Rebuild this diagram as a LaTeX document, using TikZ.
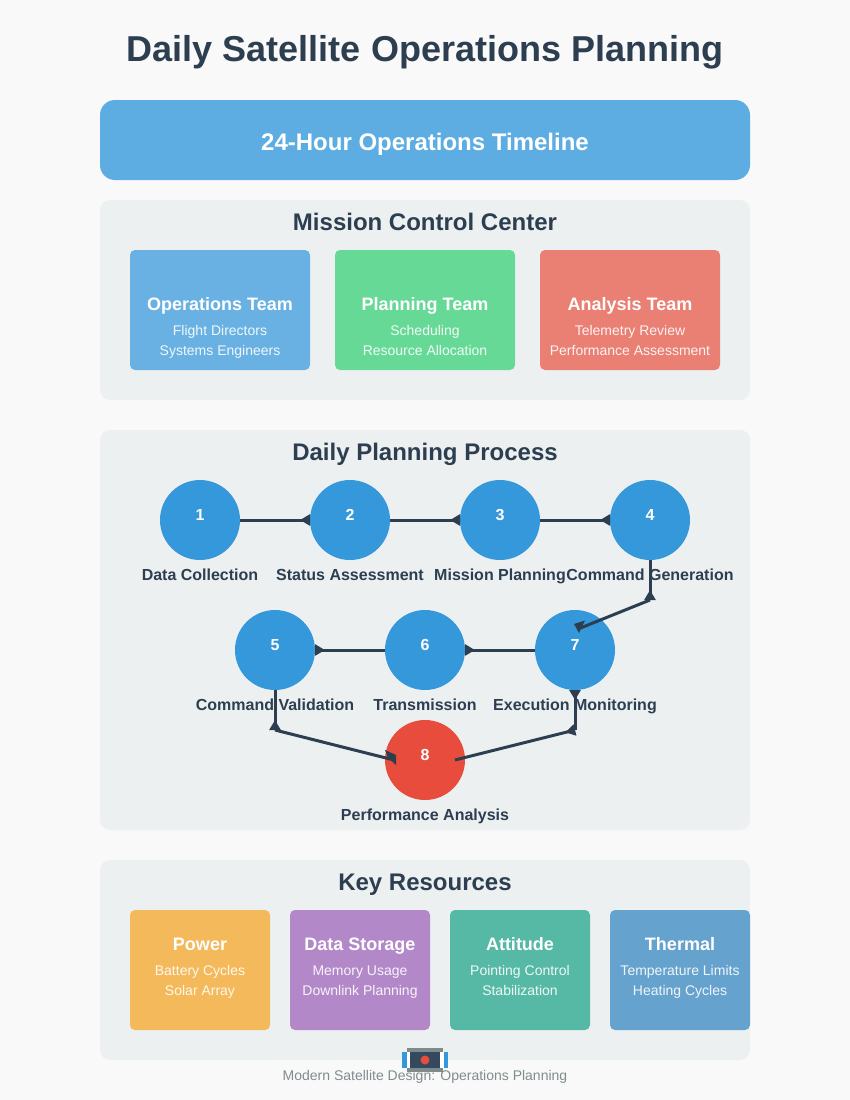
\documentclass[tikz,border=0pt]{standalone}
\usepackage{fontspec}
\setmainfont{Liberation Sans}
\usetikzlibrary{arrows.meta}
\definecolor{pagebg}{HTML}{F9F9F9}
\definecolor{ink}{HTML}{2C3E50}
\definecolor{satbody}{HTML}{34495E}
\definecolor{headerblue}{HTML}{5DADE2}
\definecolor{panelbg}{HTML}{ECF0F1}
\definecolor{stepblue}{HTML}{3498DB}
\definecolor{stepred}{HTML}{E74C3C}
\definecolor{teamblue}{HTML}{6AB1E3}
\definecolor{teamgreen}{HTML}{67D997}
\definecolor{teamred}{HTML}{EA7F73}
\definecolor{resorange}{HTML}{F3B95A}
\definecolor{respurple}{HTML}{B388C9}
\definecolor{resteal}{HTML}{56B9A6}
\definecolor{resblue}{HTML}{65A2CD}
\definecolor{footgray}{HTML}{7F8C8D}
\tikzset{
  txt/.style={inner sep=0pt,outer sep=0pt,anchor=base,align=center},
  pagetitle/.style={txt,text=ink,font=\fontsize{36}{40}\selectfont\bfseries},
  paneltitle/.style={txt,text=ink,font=\fontsize{24}{28}\selectfont\bfseries},
  headtext/.style={txt,text=white,font=\fontsize{24}{28}\selectfont\bfseries},
  boxtitle/.style={txt,text=white,font=\fontsize{18}{22}\selectfont\bfseries},
  teamsub/.style={txt,text=white,opacity=.9,font=\fontsize{14}{17}\selectfont},
  ressub/.style={txt,text=white,opacity=.9,font=\fontsize{14}{17}\selectfont},
  steplabel/.style={txt,text=ink,font=\fontsize{16}{19}\selectfont\bfseries},
  footer/.style={txt,text=footgray,font=\fontsize{14}{17}\selectfont},
  stepcircle/.style={circle,minimum size=80pt,inner sep=0pt,outer sep=0pt,text=white,font=\fontsize{16}{19}\selectfont\bfseries},
  conn/.style={draw=ink,line width=3pt,line join=miter},
  connarrow/.style={conn,-{Triangle[reversed,length=10pt,width=11pt,fill=ink]}},
  panel/.style={fill=panelbg,rounded corners=10pt},
  card/.style={rounded corners=5pt},
}
\newcommand{\stepnum}[1]{\raisebox{9.5pt}{#1}}
\begin{document}
\begin{tikzpicture}[x=1pt,y=-1pt]
\useasboundingbox (0,0) rectangle (850,1100);
\fill[pagebg] (0,0) rectangle (850,1100);
\node[pagetitle] (title) at (425,61) {Daily Satellite Operations Planning};

% header
\fill[headerblue,rounded corners=15pt] (100,100) rectangle (750,180);
\node[headtext] (head) at (425,150) {24-Hour Operations Timeline};

% mission control
\fill[panel] (100,200) rectangle (750,400);
\node[paneltitle] (mcc) at (425,230) {Mission Control Center};
\fill[card,teamblue] (130,250) rectangle (310,370);
\fill[card,teamgreen] (335,250) rectangle (515,370);
\fill[card,teamred] (540,250) rectangle (720,370);
\node[boxtitle] (t1) at (220,310) {Operations Team};
\node[teamsub] (t1a) at (220,335) {Flight Directors};
\node[teamsub] (t1b) at (220,355) {Systems Engineers};
\node[boxtitle] (t2) at (425,310) {Planning Team};
\node[teamsub] (t2a) at (425,335) {Scheduling};
\node[teamsub] (t2b) at (425,355) {Resource Allocation};
\node[boxtitle] (t3) at (630,310) {Analysis Team};
\node[teamsub] (t3a) at (630,335) {Telemetry Review};
\node[teamsub] (t3b) at (630,355) {Performance Assessment};

% planning process
\fill[panel] (100,430) rectangle (750,830);
\node[paneltitle] (dpp) at (425,460) {Daily Planning Process};
\node[stepcircle,fill=stepblue] (s1) at (200,520) {\stepnum{1}};
\node[stepcircle,fill=stepblue] (s2) at (350,520) {\stepnum{2}};
\node[stepcircle,fill=stepblue] (s3) at (500,520) {\stepnum{3}};
\node[stepcircle,fill=stepblue] (s4) at (650,520) {\stepnum{4}};
\node[stepcircle,fill=stepblue] (s5) at (275,650) {\stepnum{5}};
\node[stepcircle,fill=stepblue] (s6) at (425,650) {\stepnum{6}};
\node[stepcircle,fill=stepblue] (s7) at (575,650) {\stepnum{7}};
\node[stepcircle,fill=stepred] (s8) at (425,760) {\stepnum{8}};
\node[steplabel] (l1) at (200,580) {Data Collection};
\node[steplabel] (l2) at (350,580) {Status Assessment};
\node[steplabel] (l3) at (500,580) {Mission Planning};
\node[steplabel] (l4) at (650,580) {Command Generation};
\node[steplabel] (l5) at (275,710) {Command Validation};
\node[steplabel] (l6) at (425,710) {Transmission};
\node[steplabel] (l7) at (575,710) {Execution Monitoring};
\node[steplabel] (l8) at (425,820) {Performance Analysis};

\coordinate (b4) at (650,600);
\coordinate (e7) at (578,629);
\coordinate (b5) at (275,730);
\coordinate (e8) at (394,760);
\coordinate (s8r) at (455,760);
\coordinate (b7) at (575,730);
\draw[connarrow] (s1.east) -- (s2.west);
\draw[connarrow] (s2.east) -- (s3.west);
\draw[connarrow] (s3.east) -- (s4.west);
\draw[connarrow] (s4.south) -- (b4);
\draw[conn] (b4) -- (e7);
\fill[ink] (574,624) -- (585,620.5) -- (579,633) -- cycle;
\draw[connarrow] (s7.west) -- (s6.east);
\draw[connarrow] (s6.west) -- (s5.east);
\draw[connarrow] (s5.south) -- (b5);
\draw[conn] (b5) -- (e8);
\fill[ink] (385,750) -- (396,755) -- (396,765) -- (388,757.5) -- cycle;
\draw[connarrow] (s8r) -- (b7);
\draw[connarrow] (b7) -- (s7.south);

% key resources
\fill[panel] (100,860) rectangle (750,1060);
\node[paneltitle] (kr) at (425,890) {Key Resources};
\fill[card,resorange] (130,910) rectangle (270,1030);
\fill[card,respurple] (290,910) rectangle (430,1030);
\fill[card,resteal] (450,910) rectangle (590,1030);
\fill[card,resblue] (610,910) rectangle (750,1030);
\node[boxtitle] (r1) at (200,950) {Power};
\node[ressub] (r1a) at (200,975) {Battery Cycles};
\node[ressub] (r1b) at (200,995) {Solar Array};
\node[boxtitle] (r2) at (360,950) {Data Storage};
\node[ressub] (r2a) at (360,975) {Memory Usage};
\node[ressub] (r2b) at (360,995) {Downlink Planning};
\node[boxtitle] (r3) at (520,950) {Attitude};
\node[ressub] (r3a) at (520,975) {Pointing Control};
\node[ressub] (r3b) at (520,995) {Stabilization};
\node[boxtitle] (r4) at (680,950) {Thermal};
\node[ressub] (r4a) at (680,975) {Temperature Limits};
\node[ressub] (r4b) at (680,995) {Heating Cycles};

% satellite icon
\fill[stepblue] (402,1052) rectangle (407,1068);
\fill[stepblue] (444,1052) rectangle (448,1068);
\fill[white] (407,1052) rectangle (410,1068);
\fill[white] (440,1052) rectangle (444,1068);
\fill[footgray] (407,1048) rectangle (443,1052);
\fill[footgray] (407,1068) rectangle (443,1072);
\fill[satbody] (410,1052) rectangle (440,1068);
\fill[stepred] (425,1060) circle (4.5);
\node[footer] (foot) at (425,1080) {Modern Satellite Design: Operations Planning};
\end{tikzpicture}
\end{document}
